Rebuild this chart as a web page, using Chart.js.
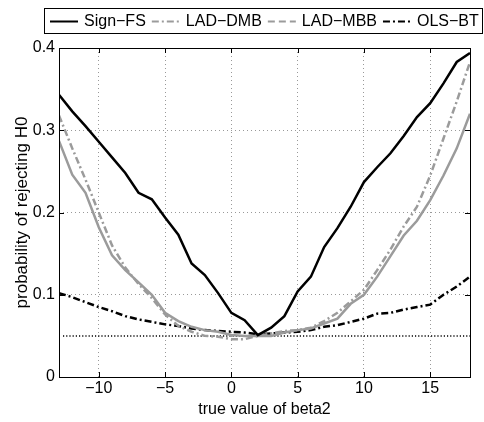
<!DOCTYPE html>
<html>
<head>
<meta charset="utf-8">
<script src="https://cdn.jsdelivr.net/npm/chart.js@4.4.0/dist/chart.umd.min.js"></script>
<style>
  html, body { margin: 0; padding: 0; background: #fff; }
  #wrap { width: 484px; height: 422px; }
</style>
</head>
<body>
<div id="wrap"><canvas id="chart" width="484" height="422"></canvas></div>
<script>
// true value of beta2 (x)
const beta2 = [-13, -12, -11, -10, -9, -8, -7, -6, -5, -4, -3, -2, -1, 0, 1, 2,
  3, 4, 5, 6, 7, 8, 9, 10, 11, 12, 13, 14, 15, 16, 17, 18];

// probability of rejecting H0 for each test
const signFS = [0.343, 0.323, 0.305, 0.286, 0.267, 0.248, 0.224, 0.216, 0.194, 0.173, 0.138, 0.124,
  0.102, 0.078, 0.069, 0.051, 0.060, 0.074, 0.104, 0.122, 0.158, 0.181, 0.207, 0.237, 0.255, 0.272,
  0.293, 0.316, 0.333, 0.357, 0.383, 0.394];
const ladDMB = [0.318, 0.278, 0.240, 0.200, 0.160, 0.133, 0.113, 0.096, 0.076, 0.062, 0.055, 0.050,
  0.049, 0.046, 0.046, 0.050, 0.053, 0.056, 0.057, 0.060, 0.068, 0.078, 0.092, 0.106, 0.130, 0.155,
  0.183, 0.207, 0.245, 0.290, 0.335, 0.383];
const ladMBB = [0.287, 0.246, 0.224, 0.182, 0.148, 0.130, 0.115, 0.100, 0.078, 0.068, 0.061, 0.057,
  0.055, 0.051, 0.050, 0.050, 0.050, 0.054, 0.057, 0.059, 0.065, 0.071, 0.089, 0.100, 0.122, 0.147,
  0.172, 0.190, 0.215, 0.245, 0.278, 0.320];
const olsBT = [0.102, 0.097, 0.091, 0.085, 0.080, 0.074, 0.070, 0.067, 0.064, 0.062, 0.059, 0.057,
  0.056, 0.055, 0.054, 0.052, 0.053, 0.054, 0.055, 0.057, 0.061, 0.063, 0.067, 0.071, 0.077, 0.078,
  0.082, 0.085, 0.088, 0.100, 0.110, 0.122];

// nominal level
const nominal = [0.05, 0.05];
const nominalX = [-12.7, 18];

const xTicks = [-10, -5, 0, 5, 10, 15];
const yTicks = [0, 0.1, 0.2, 0.3, 0.4];

const GRAY = "rgb(155,155,155)";
const DASHDOT = [7, 3, 2, 3];

const toPoints = (xs, ys) => xs.map((x, i) => ({ x: x, y: ys[i] }));
const minus = (v) => String(v).replace("-", "\u2212");

Chart.defaults.font.family = "'Liberation Sans', Arial, Helvetica, sans-serif";
Chart.defaults.color = "#000";

const datasets = [
  { label: "Sign\u2212FS", data: toPoints(beta2, signFS), borderColor: "#000",
    borderWidth: 2.5, borderDash: [], legendDash: [] },
  { label: "LAD\u2212DMB", data: toPoints(beta2, ladDMB), borderColor: GRAY,
    borderWidth: 2.5, borderDash: DASHDOT, legendDash: DASHDOT },
  { label: "LAD\u2212MBB", data: toPoints(beta2, ladMBB), borderColor: GRAY,
    borderWidth: 2.5, borderDash: [], legendDash: [7, 4] },
  { label: "OLS\u2212BT", data: toPoints(beta2, olsBT), borderColor: "#000",
    borderWidth: 2.5, borderDash: DASHDOT, legendDash: DASHDOT },
  { label: "nominal", data: toPoints(nominalX, nominal), borderColor: "#000",
    borderWidth: 1.5, borderDash: [1.2, 2], noLegend: true },
];

// box, inward tick marks and the boxed legend
const framePlugin = {
  id: "frame",
  afterDraw(chart) {
    const { ctx, chartArea: a, scales } = chart;
    ctx.save();
    ctx.strokeStyle = "#000";
    ctx.lineWidth = 1;
    ctx.setLineDash([]);
    ctx.beginPath();
    xTicks.forEach((v) => {
      const px = Math.round(scales.x.getPixelForValue(v)) + 0.5;
      ctx.moveTo(px, a.bottom); ctx.lineTo(px, a.bottom - 5);
      ctx.moveTo(px, a.top); ctx.lineTo(px, a.top + 5);
    });
    yTicks.forEach((v) => {
      const py = Math.round(scales.y.getPixelForValue(v)) + 0.5;
      ctx.moveTo(a.left, py); ctx.lineTo(a.left + 5, py);
      ctx.moveTo(a.right, py); ctx.lineTo(a.right - 5, py);
    });
    ctx.stroke();
    ctx.strokeRect(Math.round(a.left) + 0.5, Math.round(a.top) + 0.5,
      Math.round(a.right - a.left), Math.round(a.bottom - a.top));

    // legend
    ctx.font = "16px 'Liberation Sans', Arial, sans-serif";
    ctx.textBaseline = "middle";
    ctx.fillStyle = "#000";
    ctx.strokeRect(44.5, 8.5, 438, 25);
    let x = 50;
    const y = 21.5;
    chart.data.datasets.forEach((ds) => {
      if (ds.noLegend) return;
      ctx.beginPath();
      ctx.strokeStyle = ds.borderColor;
      ctx.lineWidth = 2;
      ctx.setLineDash(ds.legendDash);
      ctx.moveTo(x, y); ctx.lineTo(x + 28, y);
      ctx.stroke();
      ctx.setLineDash([]);
      x += 34;
      ctx.fillText(ds.label, x, y);
      x += ctx.measureText(ds.label).width + 6;
    });
    ctx.restore();
  },
};

new Chart(document.getElementById("chart").getContext("2d"), {
  type: "line",
  data: { datasets: datasets },
  options: {
    responsive: false,
    animation: false,
    layout: { padding: { top: 48, right: 14, left: 0, bottom: 0 } },
    elements: { point: { radius: 0 }, line: { tension: 0, fill: false } },
    plugins: { legend: { display: false }, tooltip: { enabled: false } },
    scales: {
      x: {
        type: "linear",
        min: -13,
        max: 18,
        afterBuildTicks: (s) => { s.ticks = xTicks.map((v) => ({ value: v })); },
        afterFit: (s) => { s.height = 45; },
        ticks: { callback: minus, padding: 4, maxRotation: 0, autoSkip: false,
          font: { size: 16, lineHeight: 1 } },
        grid: { color: "#999", lineWidth: 1, drawTicks: false },
        border: { display: false, dash: [1, 3] },
        title: { display: true, text: "true value of beta2",
          font: { size: 16, lineHeight: 1 }, padding: { top: 0, bottom: 4 } },
      },
      y: {
        type: "linear",
        min: 0,
        max: 0.4,
        afterBuildTicks: (s) => { s.ticks = yTicks.map((v) => ({ value: v })); },
        afterFit: (s) => { s.width = 59; },
        ticks: { callback: (v) => String(v), padding: 4, autoSkip: false,
          font: { size: 16, lineHeight: 1 } },
        grid: { color: "#999", lineWidth: 1, drawTicks: false },
        border: { display: false, dash: [1, 3] },
        title: { display: true, text: "probability of rejecting H0",
          font: { size: 17, lineHeight: 1 }, padding: { top: 13.5, bottom: 0 } },
      },
    },
  },
  plugins: [framePlugin],
});
</script>
</body>
</html>
